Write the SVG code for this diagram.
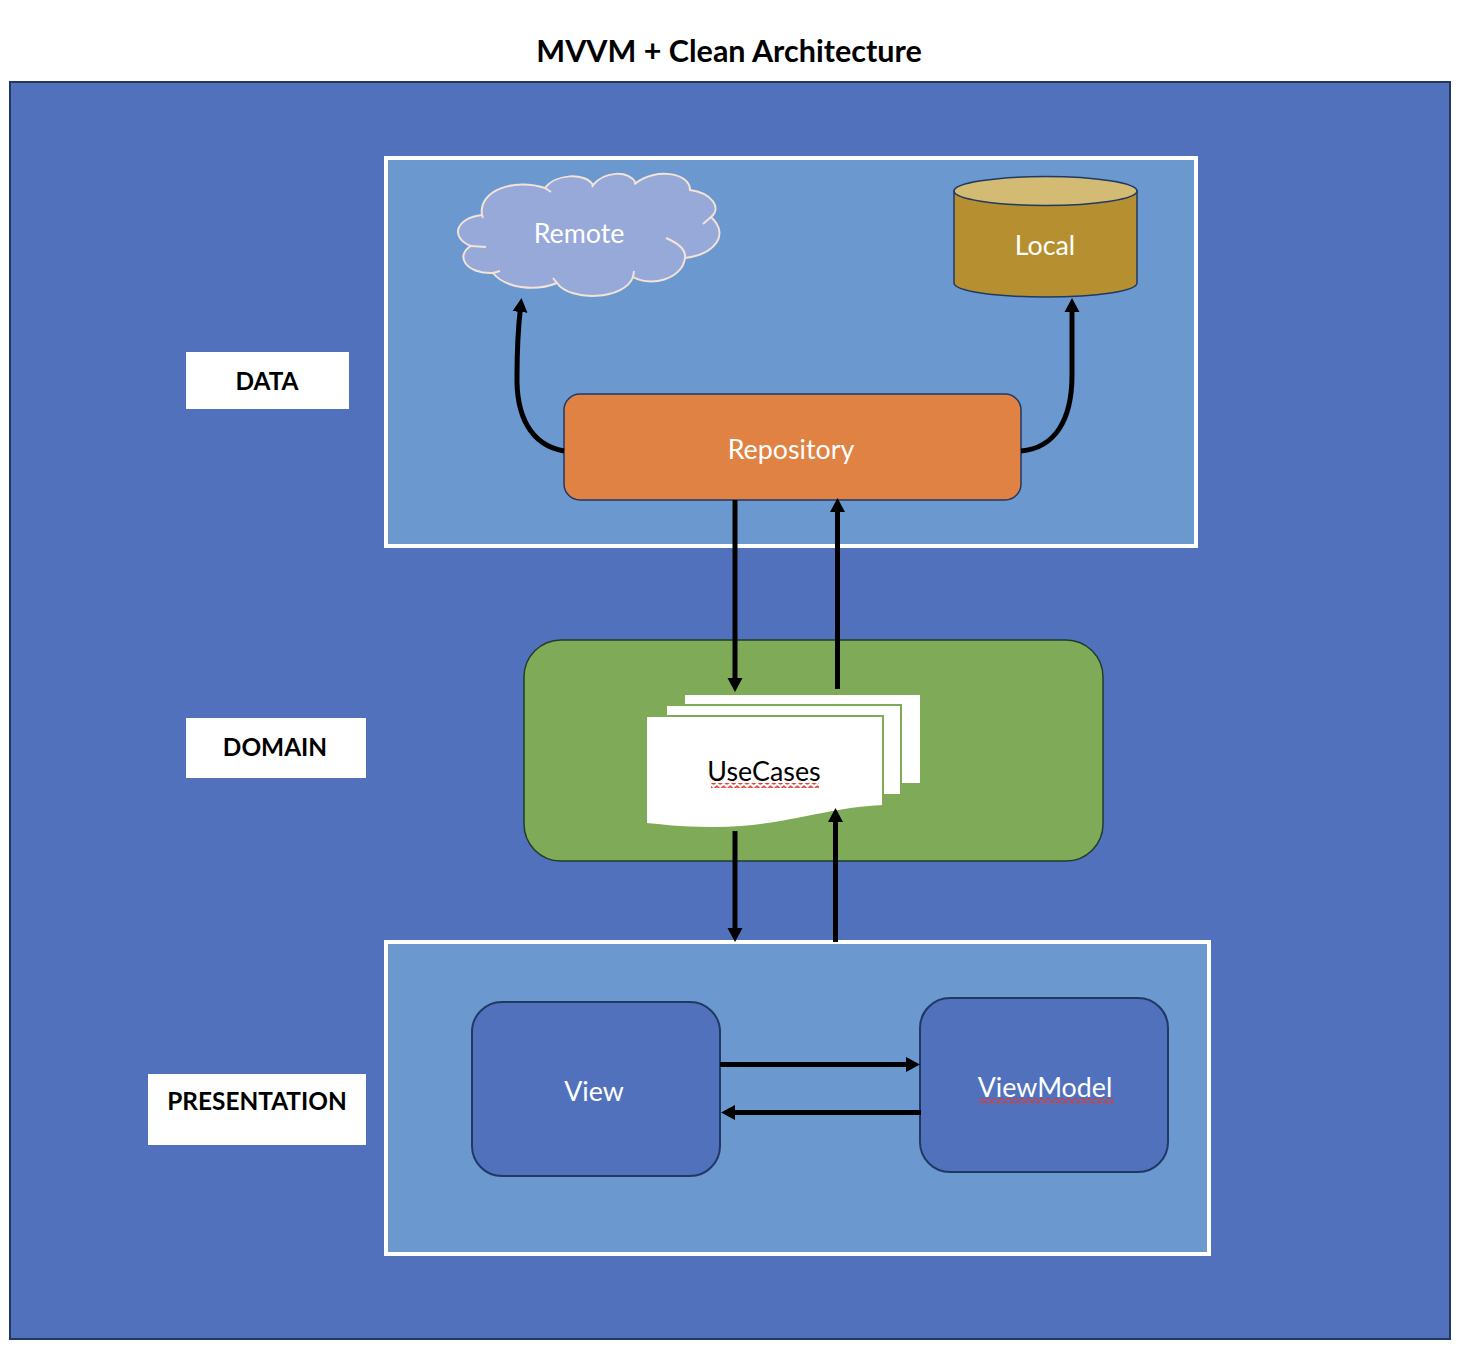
<svg xmlns="http://www.w3.org/2000/svg" width="1458" height="1358" viewBox="0 0 1458 1358">
<defs>
<marker id="ah" markerUnits="userSpaceOnUse" markerWidth="16" markerHeight="16" refX="5" refY="8" orient="auto"><path d="M0 0.500L14 8L0 15.500Z" fill="#000"/></marker>
<pattern id="wave" patternUnits="userSpaceOnUse" width="6.700" height="5"><path d="M-1 0.800C1 0.800 1.700 4 3.350 4S5.700 0.800 7.700 0.800" fill="none" stroke="#e03a2e" stroke-width="1.700"/></pattern>
</defs>
<style>
text{font-family:"Lato","Carlito","Open Sans",sans-serif;font-size:26.800px;text-anchor:middle;fill:#fff}
.b{font-weight:700;fill:#000;font-size:24.400px}
.t{font-size:30.500px}
.lbl{fill:#fff}
.panel{fill:#6a98cf;stroke:#fff;stroke-width:4}
.inner{fill:#5171bd;stroke:#1f3864;stroke-width:2}
.c{fill:none;stroke:#000;stroke-width:5;marker-end:url(#ah)}
.edge{fill:none;stroke:#7fab58;stroke-width:2}
</style>
<rect width="1458" height="1358" fill="#fff"/>
<text class="b t" x="729" y="62">MVVM + Clean Architecture</text>
<g id="frame"><rect x="10" y="82" width="1440" height="1257" fill="#5171bd" stroke="#1f3864" stroke-width="2"/></g>
<g id="data-panel"><rect class="panel" x="386" y="158" width="810" height="388"/></g>
<g id="presentation-panel"><rect class="panel" x="386" y="942" width="823" height="312"/></g>
<g id="data-label"><rect class="lbl" x="186" y="352" width="163" height="57"/><text class="b" x="267" y="390">DATA</text></g>
<g id="domain-label"><rect class="lbl" x="186" y="718" width="180" height="60"/><text class="b" x="275" y="756">DOMAIN</text></g>
<g id="presentation-label"><rect class="lbl" x="148" y="1074" width="218" height="71"/><text class="b" x="257" y="1110">PRESENTATION</text></g>
<g id="remote">
<path d="M482 215C478 190 515 178 545 188C555 174 585 172 593 185C605 171 628 170 636 183C655 168 690 172 690 190C712 193 722 208 711 217C730 235 715 254 685 258C682 280 650 287 633 277C625 300 570 302 557 283C535 292 505 288 493 273C465 274 455 255 471 246C450 238 455 218 482 215Z" fill="#97a9d9" stroke="#f3e3d8" stroke-width="2"/>
<path d="M482 215L483 218M545 188L551 192M593 185L592 187M636 183L634 184M711 217L703 224M666 238C678 243 686 250 685 258M633 277L634 271M557 283L553 278M493 273L500 271M471 246L486 247" fill="none" stroke="#f3e3d8" stroke-width="2"/>
<text x="579" y="243">Remote</text>
</g>
<g id="local">
<path d="M954 191V283C954 291 995 297 1046 297S1137 291 1137 283V191Z" fill="#b69030" stroke="#1f3864" stroke-width="1.500"/>
<ellipse cx="1045.500" cy="191" rx="91.500" ry="14.500" fill="#d3bb73" stroke="#1f3864" stroke-width="1.500"/>
<text x="1045" y="255">Local</text>
</g>
<g id="domain"><rect x="524" y="640" width="579" height="221" rx="37" fill="#7fab58" stroke="#1f3d2a" stroke-width="1.500"/></g>
<g id="usecases">
<rect x="685" y="695" width="235" height="88" fill="#fff"/>
<rect x="667" y="706" width="234" height="88" fill="#fff"/>
<path class="edge" d="M667 705H901V794"/>
<path d="M647 717H883V805C820 808 780 828 710 827C680 827 660 824 647 823Z" fill="#fff"/>
<path class="edge" d="M647 716H883V805"/>
<text x="764" y="781" style="fill:#000">UseCases</text>
<rect x="711" y="783" width="108" height="5" fill="url(#wave)"/>
</g>
<g id="repository"><rect x="564" y="394" width="457" height="106" rx="16" fill="#df8243" stroke="#1f3864" stroke-width="1.500"/><text x="791" y="459">Repository</text></g>
<g id="view"><rect class="inner" x="472" y="1002" width="248" height="174" rx="30"/><text x="594" y="1100.500">View</text></g>
<g id="viewmodel"><rect class="inner" x="920" y="998" width="248" height="174" rx="30"/><text x="1045" y="1097">ViewModel</text>
<rect x="979" y="1098" width="135" height="5" fill="url(#wave)"/>
</g>
<g id="connectors">
<path class="c" d="M564 451C530 445 516 415 517 375C517 355 518 330 520.500 307"/>
<path class="c" d="M1021 451C1055 448 1072 420 1072 375V307"/>
<path class="c" d="M735 500V683"/>
<path class="c" d="M837.500 689V507"/>
<path class="c" d="M735 831V933"/>
<path class="c" d="M835.500 942V817"/>
<path class="c" d="M720 1064.500H911"/>
<path class="c" d="M921 1112.500H730"/>
</g>
</svg>
